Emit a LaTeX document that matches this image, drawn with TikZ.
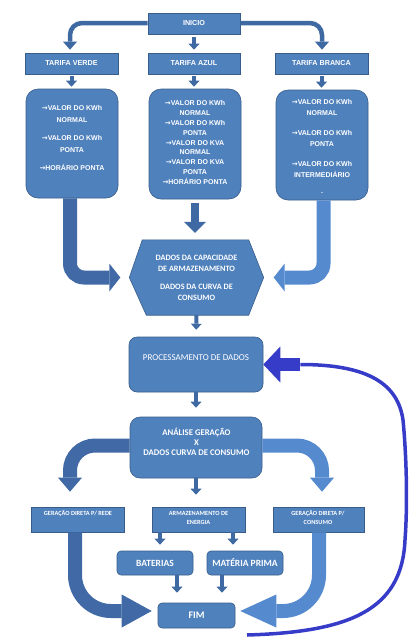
\documentclass[tikz,border=0pt]{standalone}
\usepackage{fontspec}
\setmainfont{Carlito}
\newfontfamily\arrfont{DejaVu Sans}
\newfontfamily\arialfont{Liberation Sans}
\usetikzlibrary{arrows.meta,backgrounds,calc}
\newcommand{\rar}{{\arrfont →}}
\definecolor{boxfill}{RGB}{79,129,189}
\definecolor{boxline}{RGB}{56,93,138}
\definecolor{arrdark}{RGB}{64,105,165}
\definecolor{arrlight}{RGB}{86,138,206}
\definecolor{arrcol}{RGB}{62,105,162}
\definecolor{loopblue}{RGB}{55,60,200}
\begin{document}
\begin{tikzpicture}[x=1pt,y=-1pt,
  box/.style={draw=boxline, fill=boxfill, line width=0.6pt, inner sep=0pt},
  rbox/.style={box, rounded corners=#1},
  txt/.style={text=white, align=center, inner sep=0pt},
  hfont/.style={font=\arialfont\bfseries\fontsize{7.2}{9}\selectfont},
  vfont/.style={font=\arialfont\bfseries\fontsize{7}{11.5}\selectfont},
  sarr/.style={draw=arrcol, line width=4pt, -{Triangle[width=11pt,length=6pt,line width=0pt]}},
  marr/.style={draw=arrcol, line width=8pt, -{Triangle[width=22pt,length=11pt,line width=0pt]}},
  tarr/.style={draw=arrcol, line width=4.5pt, rounded corners=12pt, -{Triangle[width=14pt,length=8pt,line width=0pt]}},
  bigarr/.style={draw=#1, line width=14pt, rounded corners=14pt, -{Triangle[width=28pt,length=11pt,line width=0pt]}},
  anaarr/.style={draw=#1, line width=14pt, rounded corners=25pt, -{Triangle[width=24pt,length=14pt,line width=0pt]}},
  botarr/.style={draw=#1, line width=14pt, rounded corners=36pt},
]
\useasboundingbox (0,0) rectangle (419,641);

% top row
\node[box, txt, hfont, minimum width=92pt, minimum height=21pt] (ini) at (194,23.5) {INICIO};
\node[box, txt, hfont, minimum width=93pt, minimum height=21pt] (tv) at (71.5,63.5) {TARIFA VERDE};
\node[box, txt, hfont, minimum width=92pt, minimum height=21pt] (ta) at (194,63.5) {TARIFA AZUL};
\node[box, txt, hfont, minimum width=93pt, minimum height=21pt] (tb) at (321.5,63.5) {TARIFA BRANCA};

% value boxes
\node[rbox=12pt, minimum width=92pt, minimum height=109pt] (tvv) at (72,143.5) {};
\node[rbox=12pt, minimum width=92pt, minimum height=110pt] (tav) at (195,144) {};
\node[rbox=12pt, minimum width=92pt, minimum height=110pt] (tbv) at (322,145) {};
\node[txt, vfont] (tvvt) at (72,138) {\rar VALOR DO KWh\\NORMAL\\[7pt]\rar VALOR DO KWh\\PONTA\\[7pt]\rar HORÁRIO PONTA};
\node[txt, font=\arialfont\bfseries\fontsize{7}{9.9}\selectfont] (tavt) at (195,142.5) {\rar VALOR DO KWh\\NORMAL\\\rar VALOR DO KWh\\PONTA\\\rar VALOR DO KVA\\NORMAL\\\rar VALOR DO KVA\\PONTA\\\rar HORÁRIO PONTA};
\node[txt, vfont] (tbvt) at (322,146) {\rar VALOR DO KWh\\NORMAL\\[8pt]\rar VALOR DO KWh\\PONTA\\[8pt]\rar VALOR DO KWh\\INTERMEDIÁRIO\\[4pt].};

% hexagon
\node[txt, font=\bfseries\fontsize{8.2}{11}\selectfont, minimum width=134pt, minimum height=75pt] (hex) at (196.5,277.5)
  {DADOS DA CAPACIDADE\\DE ARMAZENAMENTO\\[7pt]DADOS DA CURVA DE\\CONSUMO};
\begin{scope}[on background layer]
\draw[box] (hex.west) -- ([xshift=13pt]hex.north west) -- ([xshift=-15pt]hex.north east) -- (hex.east)
  -- ([xshift=-15pt]hex.south east) -- ([xshift=17pt]hex.south west) -- cycle;
\end{scope}

% processing
\node[rbox=8pt, minimum width=134pt, minimum height=55pt] (proc) at (196,364.5) {};
\node[txt, font=\fontsize{9}{11}\selectfont] (proct) at (196,357.5) {PROCESSAMENTO DE DADOS};

\node[rbox=10pt, minimum width=132pt, minimum height=61pt] (ana) at (196,447.5) {};
\node[txt, font=\bfseries\fontsize{8.7}{10}\selectfont] (anat) at (196.5,442) {ANÁLISE GERAÇÃO\\X\\DADOS CURVA DE CONSUMO};

% lower boxes
\node[box, minimum width=93pt, minimum height=25pt] (grd) at (77.5,519.5) {};
\node[box, minimum width=93pt, minimum height=25pt] (arm) at (198.5,519.5) {};
\node[box, minimum width=91pt, minimum height=25pt] (grc) at (318.5,519.5) {};
\node[txt, font=\bfseries\fontsize{6.3}{9}\selectfont] (grdt) at (78,513) {GERAÇÃO DIRETA P/ REDE};
\node[txt, font=\bfseries\fontsize{6.3}{9}\selectfont] (armt) at (198.5,517.5) {ARMAZENAMENTO DE\\ENERGIA};
\node[txt, font=\bfseries\fontsize{6.3}{9}\selectfont] (grct) at (318,517.5) {GERAÇÃO DIRETA P/\\CONSUMO};

\node[rbox=4pt, txt, font=\bfseries\fontsize{9.5}{11}\selectfont, minimum width=76pt, minimum height=24pt] (bat) at (155,563) {BATERIAS};
\node[rbox=4pt, txt, font=\bfseries\fontsize{9.5}{11}\selectfont, minimum width=76pt, minimum height=24pt] (mat) at (245,563) {MATÉRIA PRIMA};
\node[rbox=4pt, txt, font=\bfseries\fontsize{10}{12}\selectfont, minimum width=77pt, minimum height=25pt] (fim) at (196.5,615.5) {FIM};

% connectors: top
\draw[tarr, shorten >=3pt] ([yshift=0.5pt]ini.west) -| ([xshift=-1.5pt]tv.north);
\draw[tarr, shorten >=3pt] ([yshift=0.5pt]ini.east) -| ([xshift=0.5pt]tb.north);
\draw[sarr, shorten <=3pt, shorten >=3pt] (ini.south) -- (ini.south |- ta.north);
\draw[sarr, shorten <=2pt, shorten >=2pt] (tv.south) -- (tv.south |- tvv.north);
\draw[sarr, shorten <=2pt, shorten >=2pt] (ta.south) -- (ta.south |- tav.north);
\draw[sarr, shorten <=2pt, shorten >=2pt] (tb.south) -- (tb.south |- tbv.north);

% to hexagon
\draw[bigarr=arrdark, shorten >=9pt] ([xshift=-2pt]tvv.south) |- (hex.west);
\draw[bigarr=arrlight, shorten >=10pt] ([xshift=1.5pt]tbv.south) |- (hex.east);
\draw[marr, shorten <=4pt, shorten >=7pt] (tav.south) -- (tav.south |- hex.north);

% middle chain
\draw[sarr, shorten >=7pt] (hex.south) -- (proc.north);
\draw[sarr, shorten >=9pt] (proc.south) -- (ana.north);
\draw[sarr, shorten >=12pt] (ana.south) -- (ana.south |- arm.north);
\draw[anaarr=arrdark, shorten >=15pt] ([yshift=2pt]ana.west) -| ([xshift=-7.5pt]grd.north);
\draw[anaarr=arrlight, shorten >=15pt] ([yshift=2pt]ana.east) -| ([xshift=3.5pt]grc.north);

% storage
\draw[sarr, shorten >=6pt] ([xshift=-38.5pt]arm.south) -- ([xshift=-38.5pt]arm.south |- bat.north);
\draw[sarr, shorten >=6pt] ([xshift=34.5pt]arm.south) -- ([xshift=34.5pt]arm.south |- mat.north);
\draw[sarr, shorten >=10pt] ([xshift=22pt]bat.south) -- ([xshift=22pt]bat.south |- fim.north);
\draw[sarr, shorten >=10pt] ([xshift=-23pt]mat.south) -- ([xshift=-23pt]mat.south |- fim.north);

% bottom big arrows
\draw[botarr=arrdark, -{Triangle[width=33pt,length=30pt,line width=0pt]}, shorten >=6pt] ([xshift=-2.5pt]grd.south) |- ([yshift=4.5pt]fim.west);
\draw[botarr=arrlight, -{Triangle[width=33pt,length=36pt,line width=0pt]}, shorten >=5pt] ([xshift=0.5pt]grc.south) |- ([yshift=4.5pt]fim.east);

% loop back
\coordinate (ls) at (247,635);
\coordinate (bj) at ([xshift=37pt]proc.east);
\draw[loopblue, line width=3.5pt] (ls) .. controls (350,632) and (402,610) .. (405,540)
  .. controls (408,500) and (406,450) .. (403,420)
  .. controls (398,385) and (370,364.5) .. (bj);
\draw[loopblue, line width=13pt, -{Triangle[width=36pt,length=17pt,line width=0pt]}] (bj) -- (proc.east);
\end{tikzpicture}
\end{document}
